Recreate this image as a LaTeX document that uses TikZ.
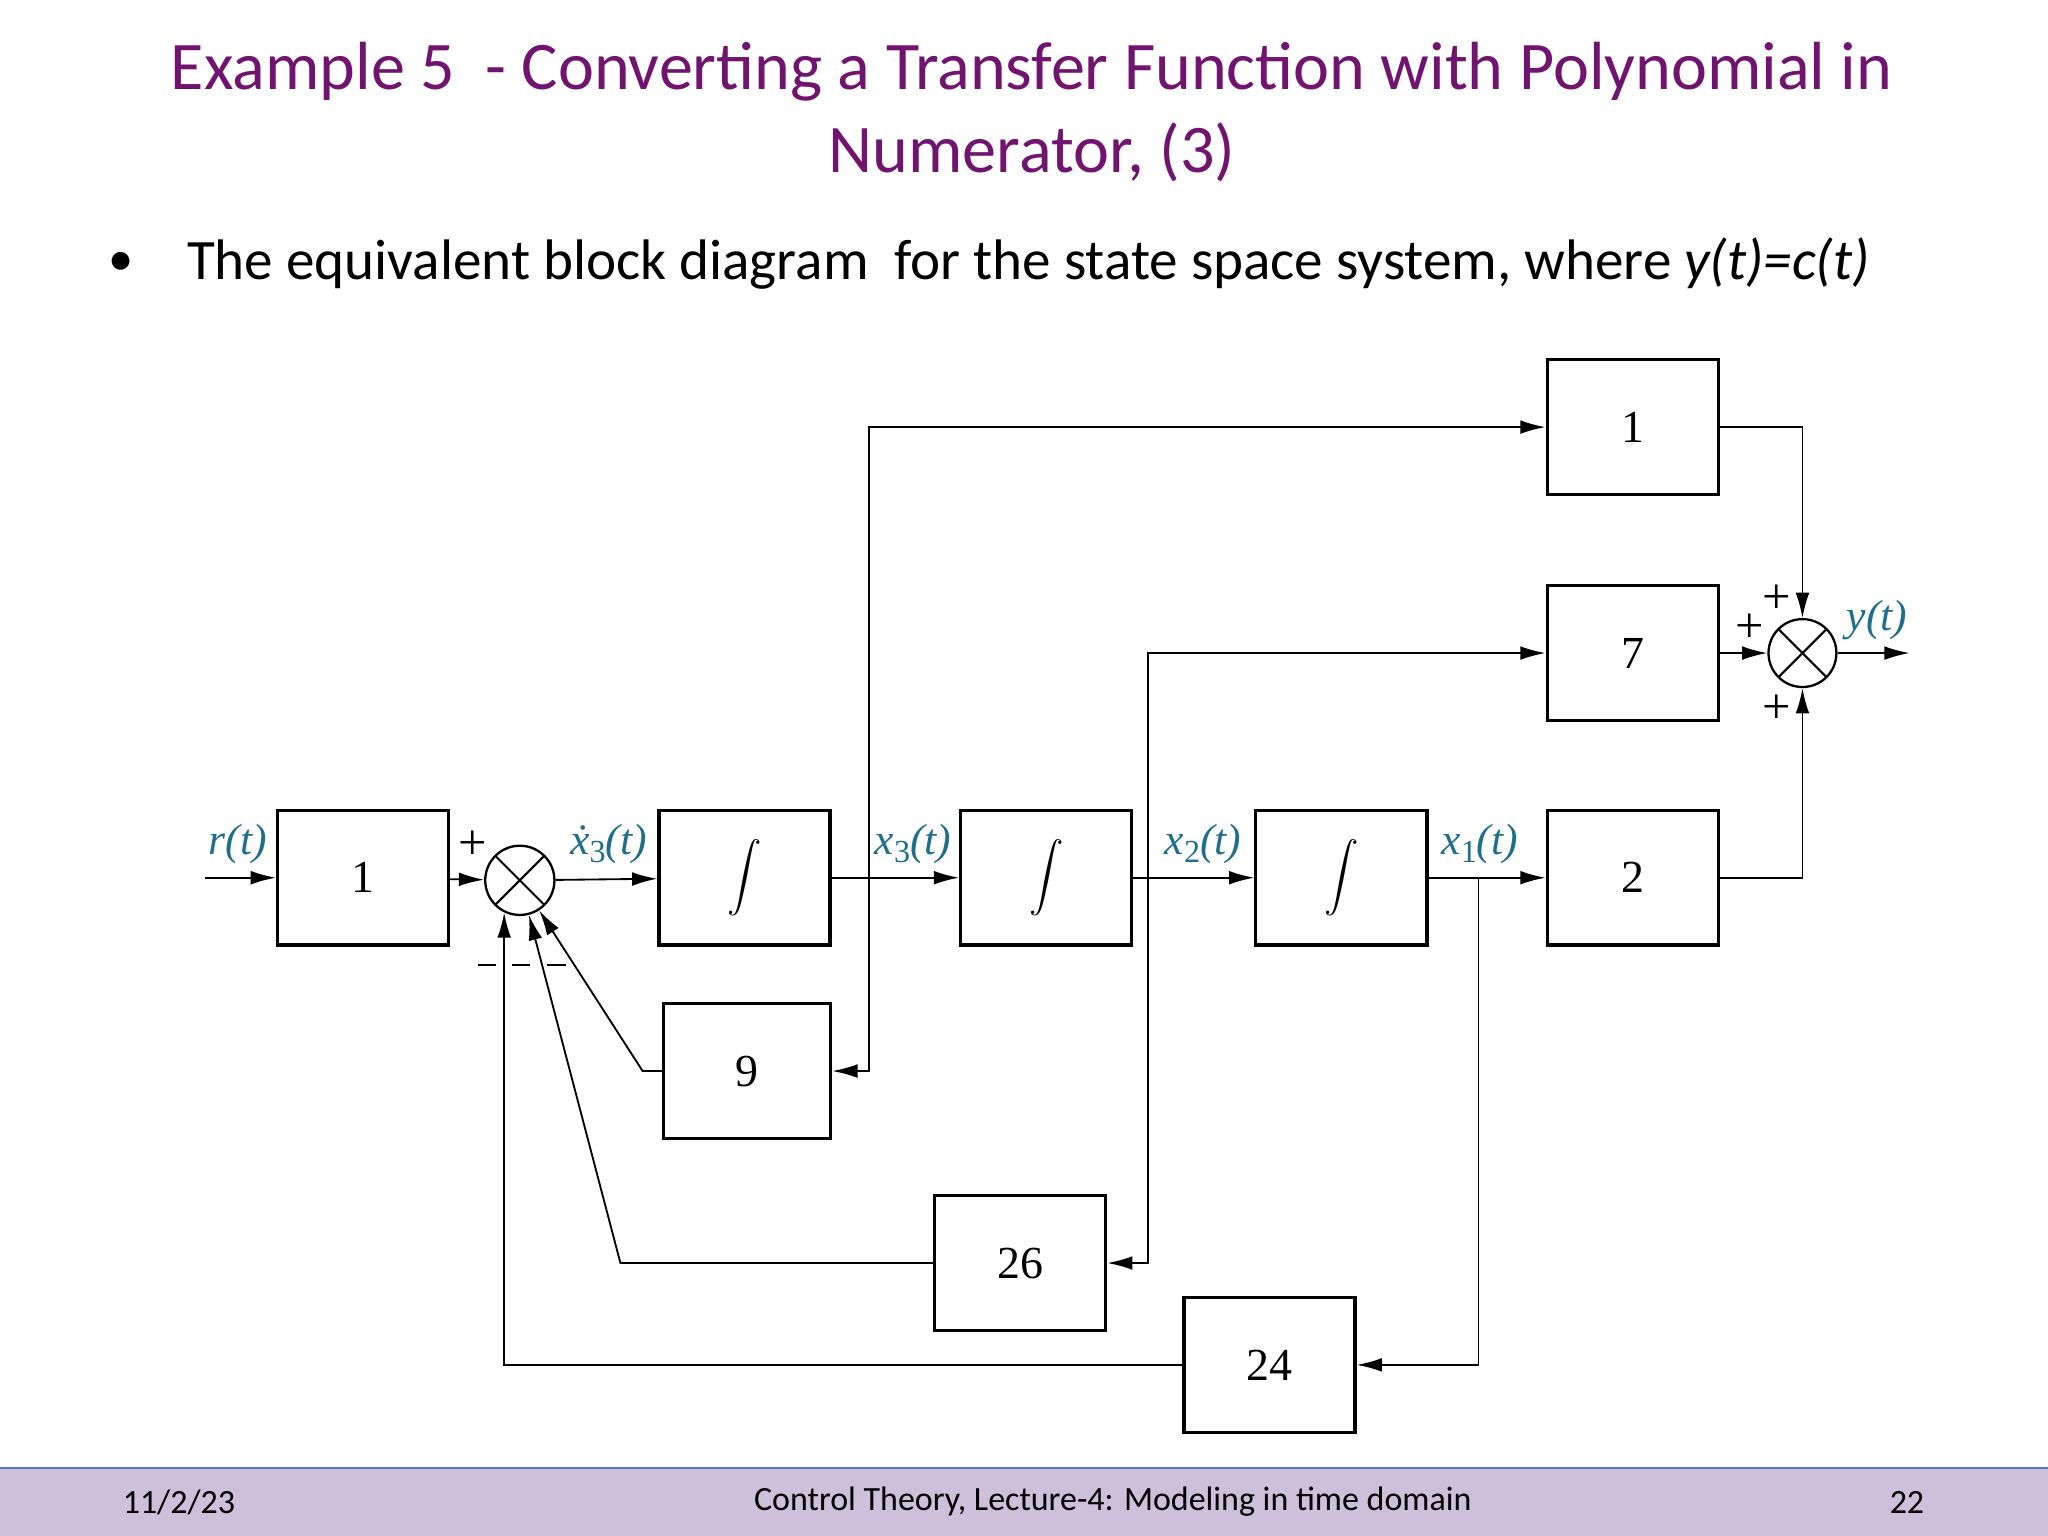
\documentclass[tikz,border=0pt]{standalone}
\usepackage{fontspec}
\setmainfont{Carlito}
\newfontfamily\tnr{Liberation Serif}
\usetikzlibrary{arrows.meta,calc}
\definecolor{ttl}{RGB}{112,20,112}
\definecolor{sig}{RGB}{30,110,140}
\definecolor{foot}{RGB}{204,192,218}
\definecolor{footline}{RGB}{80,120,190}
\newcommand{\sbs}[1]{\raisebox{-0.4ex}{\upshape\fontsize{14}{14}\selectfont #1}}
\newcommand{\intg}{\scalebox{1.5}{$\displaystyle\int$}}
\begin{document}
\begin{tikzpicture}[x=0.02cm,y=-0.02cm,
  blk/.style={draw,line width=1.4pt,minimum width=2.62cm,minimum height=2.06cm,inner sep=0pt,font=\tnr\fontsize{20}{20}\selectfont},
  sumn/.style={draw,circle,line width=1pt,minimum size=1.06cm,inner sep=0pt,
    path picture={\draw[line width=0.9pt] (path picture bounding box.north west)--(path picture bounding box.south east) (path picture bounding box.north east)--(path picture bounding box.south west);}},
  ln/.style={line width=0.8pt},
  ar/.style={ln,-{Latex[length=11pt,width=6pt]}},
  lab/.style={text=sig,font=\tnr\itshape\fontsize{19}{19}\selectfont,inner sep=1pt},
  pm/.style={font=\tnr\fontsize{22}{22}\selectfont}]
\useasboundingbox (0,0) rectangle (1568,1176);
% title
\node[text=ttl,font=\fontsize{29.7}{36}\selectfont,align=center] (title) at (790,86) {Example 5\ \ - Converting a Transfer Function with Polynomial in\\Numerator, (3)};
\node[font=\fontsize{22}{26}\selectfont] (bul) at (93,202) {•};
\node[font=\fontsize{24.9}{28}\selectfont,anchor=west] (txt) at (137,202) {The equivalent block diagram\ \ for the state space system, where \textit{y(t)=c(t)}};
% footer
\fill[foot] (0,1124) rectangle (1568,1176);
\draw[footline,line width=0.8pt] (0,1124) -- (1568,1124);
\node[font=\fontsize{14.8}{16}\selectfont] (f1) at (137,1150) {11/2/23};
\node[font=\fontsize{14.8}{16}\selectfont] (f2) at (852,1150) {Control Theory, Lecture-4: Modeling in time domain};
\node[font=\fontsize{14.8}{16}\selectfont] (f3) at (1460,1150) {22};
% blocks
\node[blk] (b1) at (278,672) {1};
\node[sumn] (s1) at (398,674) {};
\node[blk] (i1) at (570,672) {\intg};
\node[blk] (i2) at (801,672) {\intg};
\node[blk] (i3) at (1027,672) {\intg};
\node[blk] (g2) at (1250,672) {2};
\node[blk] (g7) at (1250,500) {7};
\node[blk] (g1) at (1250,327) {1};
\node[sumn,minimum size=1.04cm] (s2) at (1380,500) {};
\node[blk,minimum width=2.56cm] (g9) at (572,820) {9};
\node[blk] (g26) at (781,967) {26};
\node[blk] (g24) at (972,1045) {24};
% coordinates
\coordinate (rin) at (157,672);
\coordinate (yout) at (1462,500);
\coordinate (p3) at (665,672);
\coordinate (p2) at (879,672);
\coordinate (p1) at (1132,672);
\coordinate (k9) at (492,820);
\coordinate (k26) at (475,967);
% forward
\draw[ar] (rin) -- (b1);
\draw[ar] (b1) -- (s1);
\draw[ar] (s1) -- (i1);
\draw[ar] (i1) -- (i2);
\draw[ar] (i2) -- (i3);
\draw[ar] (i3) -- (g2);
\draw[ar] (p3) |- (g1);
\draw[ar] (p3) |- (g9);
\draw[ar] (p2) |- (g7);
\draw[ar] (p2) |- (g26);
\draw[ar] (p1) |- (g24);
\draw[ar] (g1) -| (s2);
\draw[ar] (g7) -- (s2);
\draw[ar] (g2) -| (s2);
\draw[ar] (s2) -- (yout);
% feedback
\draw[ar] (g9.west) -- (k9) -- (s1);
\draw[ar] (g26.west) -- (k26) -- (s1);
\draw[ar] (g24.west) -| (s1.244);
% labels
\node[lab] (lr) at (182,646) {r(t)};
\node[lab] (lx3d) at (466,646) {\.x\sbs{3}(t)};
\node[lab] (lx3) at (699,646) {x\sbs{3}(t)};
\node[lab] (lx2) at (921,646) {x\sbs{2}(t)};
\node[lab] (lx1) at (1133,646) {x\sbs{1}(t)};
\node[lab] (ly) at (1437,475) {y(t)};
\node[pm] (pa) at (362,647) {+};
\node[pm] (pb) at (1360,459) {+};
\node[pm] (pc) at (1340,481) {+};
\node[pm] (pd) at (1360,543) {+};
\draw[ln] (366,739) -- (380,739) (392,739) -- (406,739) (419,739) -- (433,739);
\end{tikzpicture}
\end{document}
